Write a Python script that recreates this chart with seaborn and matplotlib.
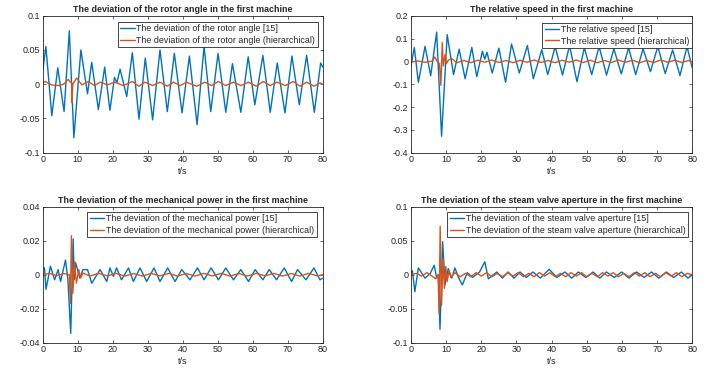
import matplotlib
matplotlib.use("Agg")
import matplotlib.pyplot as plt
import seaborn as sns

# rotor angle deviation, first machine
t_angle = [0, 0.9, 2.6, 4.3, 6.1, 7.6, 8.9, 10.9, 12.8, 14.0, 15.9, 17.7, 19.2, 20.5, 21.2, 22.1,
           24.0, 25.6, 27.5, 29.3, 31.4, 33.5, 35.6, 37.6, 39.8, 41.9, 44.1, 46.1, 48.0, 50.1,
           52.3, 54.2, 56.6, 58.7, 60.6, 62.9, 65.0, 67.0, 69.2, 71.2, 73.3, 75.4, 77.6, 79.4, 80]
angle_ref = [0.02, 0.055, -0.046, 0.024, -0.04, 0.078, -0.078, 0.05, -0.014, 0.032, -0.037, 0.025,
             -0.038, 0.01, 0.002, 0.022, -0.018, 0.046, -0.051, 0.038, -0.052, 0.05, -0.04, 0.045,
             -0.042, 0.041, -0.059, 0.055, -0.04, 0.045, -0.041, 0.03, -0.041, 0.04, -0.03, 0.042,
             -0.041, 0.031, -0.042, 0.041, -0.03, 0.042, -0.041, 0.031, 0.025]
t_angle_h = [0, 0.7, 2.5, 4.5, 6.0, 7.3, 7.9, 8.3, 8.35, 8.6, 9.7, 11.2, 13.0, 14.8, 16.4, 18.5,
             20.5, 23.0, 25.6, 27.5, 29.2, 31.4, 33.5, 35.6, 37.3, 39.3, 41.1, 44.0, 46.3, 48.2,
             50.2, 52.3, 54.5, 56.6, 58.8, 61.0, 63.0, 65.0, 66.9, 69.3, 71.6, 73.5, 75.4, 77.5, 79.2, 80]
angle_h = [0.002, 0.004, -0.001, -0.002, 0.0, 0.007, 0.003, 0.002, -0.027, 0.0, 0.009, -0.001,
           0.004, -0.002, 0.003, -0.001, 0.003, -0.002, 0.004, -0.003, 0.003, -0.002, 0.003, -0.003,
           0.003, -0.002, 0.003, -0.003, 0.003, -0.002, 0.004, -0.002, 0.003, -0.002, 0.003, -0.003,
           0.004, -0.002, 0.003, -0.002, 0.004, -0.003, 0.003, -0.003, 0.002, 0.0]

# relative speed, first machine
t_speed = [0, 0.95, 2.1, 4.0, 5.6, 7.3, 8.7, 10.3, 12.1, 13.7, 15.4, 17.3, 18.7, 20.3, 21.0, 21.6,
           23.1, 25.0, 26.9, 28.6, 30.8, 33.1, 34.8, 37.2, 38.9, 41.0, 43.1, 45.1, 47.2, 49.3,
           51.4, 53.5, 55.6, 57.7, 59.8, 61.9, 63.9, 66.0, 68.1, 70.2, 72.3, 74.4, 76.5, 78.5, 80]
speed_ref = [-0.02, 0.061, -0.092, 0.066, -0.063, 0.128, -0.328, 0.117, -0.058, 0.053, -0.076,
             0.061, -0.067, 0.044, 0.01, 0.04, -0.051, 0.058, -0.092, 0.076, -0.051, 0.069, -0.076,
             0.051, -0.058, 0.065, -0.06, 0.07, -0.089, 0.06, -0.058, 0.065, -0.06, 0.055, -0.055,
             0.06, -0.058, 0.055, -0.045, 0.065, -0.053, 0.05, -0.062, 0.065, -0.03]
t_speed_h = [0, 2.0, 4.0, 6.0, 6.8, 7.5, 8.1, 8.5, 8.9, 9.2, 9.7, 10.1, 10.6, 11.6, 13.0, 15.0,
             17.0, 19.0, 21.0, 23.0, 25.0, 27.0, 29.0, 31.0, 33.0, 35.0, 37.0, 39.0, 41.0, 43.0,
             45.0, 47.0, 49.0, 51.0, 53.0, 55.0, 57.0, 59.0, 61.0, 63.0, 65.0, 67.0, 69.0, 71.0,
             73.0, 75.0, 77.0, 79.0, 80]
speed_h = [-0.003, 0.002, -0.004, 0.001, 0.019, -0.002, -0.01, -0.105, 0.082, -0.02, 0.03, -0.01,
           0.005, 0.012, -0.006, 0.004, -0.006, 0.005, -0.004, 0.006, -0.005, 0.004, -0.006, 0.005,
           -0.004, 0.006, -0.005, 0.004, -0.006, 0.005, -0.004, 0.006, -0.005, 0.005, -0.006, 0.004,
           -0.005, 0.006, -0.004, 0.005, -0.006, 0.004, -0.005, 0.006, -0.004, 0.005, -0.005, 0.004, -0.002]

# mechanical power deviation, first machine
t_power = [0, 0.5, 0.94, 2.2, 3.4, 4.4, 5.1, 6.5, 7.2, 8.0, 8.7, 9.0, 9.4, 10.6, 11.5, 12.8,
           14.0, 16.4, 18.3, 19.2, 20.2, 21.1, 22.5, 24.5, 25.9, 27.8, 29.7, 31.8, 33.5, 35.7,
           37.8, 39.7, 42.1, 44.2, 46.1, 48.1, 50.2, 52.3, 54.5, 56.6, 58.8, 60.7, 62.9, 64.7,
           66.8, 69.0, 71.1, 72.8, 75.2, 77.5, 79.2, 80]
power_ref = [0.0037, 0.004, -0.0086, 0.005, -0.003, 0.003, -0.004, 0.0086, -0.003, -0.0345,
             0.021, -0.003, 0.007, -0.002, 0.003, 0.003, -0.005, 0.003, -0.004, 0.004, -0.001,
             0.004, -0.003, 0.004, -0.004, 0.004, -0.004, 0.004, -0.004, 0.004, -0.004, 0.003,
             -0.003, 0.004, -0.003, 0.004, -0.003, 0.004, -0.003, 0.003, -0.004, 0.003, -0.003,
             0.003, -0.003, 0.004, -0.004, 0.003, -0.003, 0.004, -0.003, -0.002]
t_power_h = [0, 2.0, 4.0, 6.0, 7.6, 7.9, 8.2, 8.6, 9.1, 9.6, 10.3, 10.8, 11.5, 13.5, 16.0, 18.5,
             21.0, 23.5, 26.0, 28.5, 31.0, 33.5, 36.0, 38.5, 41.0, 43.5, 46.0, 48.5, 51.0, 53.5,
             56.0, 58.5, 61.0, 63.5, 66.0, 68.5, 71.0, 73.5, 76.0, 78.5, 80]
power_h = [0.0, 0.0008, -0.0006, 0.0007, 0.0, -0.017, 0.023, -0.011, 0.0076, -0.005, 0.003,
           -0.002, 0.001, -0.0008, 0.0008, -0.0007, 0.0008, -0.0008, 0.0007, -0.0008, 0.0008,
           -0.0007, 0.0008, -0.0008, 0.0007, -0.0008, 0.0008, -0.0007, 0.0008, -0.0008, 0.0007,
           -0.0008, 0.0008, -0.0007, 0.0008, -0.0008, 0.0007, -0.0008, 0.0008, -0.0007, 0.0]

# steam valve aperture deviation, first machine
t_valve = [0, 0.4, 1.1, 2.1, 4.0, 5.5, 6.6, 7.3, 7.8, 8.25, 9.0, 9.7, 10.6, 11.6, 12.5, 13.4,
           14.6, 16.0, 17.5, 19.5, 21.0, 22.0, 24.4, 26.0, 27.6, 29.3, 31.0, 32.8, 34.7, 36.8,
           39.3, 41.5, 43.8, 45.7, 47.6, 49.7, 51.8, 53.7, 55.6, 57.8, 59.9, 62.0, 64.1, 66.3,
           68.4, 70.5, 72.6, 74.7, 76.9, 78.8, 80]
valve_ref = [0.004, 0.006, -0.025, 0.01, -0.005, 0.002, 0.014, -0.005, 0.0, -0.08, 0.0485,
             -0.015, 0.009, -0.005, 0.01, -0.003, -0.015, 0.003, -0.004, 0.004, 0.019, -0.006,
             0.004, -0.005, 0.004, -0.005, 0.004, -0.004, 0.004, -0.005, 0.008, -0.004, 0.004,
             -0.005, 0.004, -0.004, 0.004, -0.005, 0.004, -0.004, 0.004, -0.005, 0.004, -0.004,
             0.004, -0.005, 0.004, -0.004, 0.004, -0.005, 0.0]
t_valve_h = [0, 1.5, 3.0, 4.5, 6.0, 7.0, 7.7, 8.0, 8.3, 8.7, 9.1, 9.5, 9.9, 10.3, 10.8, 11.3,
             12.5, 14.0, 15.5, 17.0, 18.5, 20.0, 21.5, 23.0, 24.5, 26.0, 27.5, 29.0, 30.5, 32.0,
             33.5, 35.0, 36.5, 38.0, 39.5, 41.0, 42.5, 44.0, 45.5, 47.0, 48.5, 50.0, 51.5, 53.0,
             54.5, 56.0, 57.5, 59.0, 60.5, 62.0, 63.5, 65.0, 66.5, 68.0, 69.5, 71.0, 72.5, 74.0,
             75.5, 77.0, 78.5, 80]
valve_h = [0.0, 0.002, -0.002, 0.003, -0.002, -0.006, 0.0, -0.058, 0.071, -0.045, 0.024, -0.02,
           0.012, -0.01, 0.006, -0.004, 0.003, -0.003, 0.002, -0.003, 0.003, -0.002, 0.003, -0.003,
           0.002, -0.003, 0.003, -0.002, 0.003, -0.003, 0.002, -0.003, 0.003, -0.002, 0.003, -0.003,
           0.002, -0.003, 0.003, -0.002, 0.003, -0.003, 0.002, -0.003, 0.003, -0.002, 0.003, -0.003,
           0.002, -0.003, 0.003, -0.002, 0.003, -0.003, 0.002, -0.003, 0.003, -0.002, 0.003,
           -0.003, 0.002, 0.0]

BLUE = '#0072BD'
RED = '#D95319'

sns.set_style("ticks")
plt.rcParams['font.family'] = ['Liberation Sans', 'DejaVu Sans']
plt.rcParams['axes.linewidth'] = 0.6

fig = plt.figure(figsize=(7.18, 3.73), dpi=100)

panels = [
    dict(rect=[0.0595, 0.5906, 0.390, 0.3673], t1=t_angle, v1=angle_ref, t2=t_angle_h, v2=angle_h,
         lab1='The deviation of the rotor angle [15]', lab2='The deviation of the rotor angle (hierarchical)',
         title='The deviation of the rotor angle in the first machine',
         ylim=(-0.1, 0.1), yt=[-0.1, -0.05, 0, 0.05, 0.1], ytl=['-0.1', '-0.05', '0', '0.05', '0.1'],
         anchor=(0.983, 0.956)),
    dict(rect=[0.5724, 0.5906, 0.3918, 0.3673], t1=t_speed, v1=speed_ref, t2=t_speed_h, v2=speed_h,
         lab1='The relative speed [15]', lab2='The relative speed (hierarchical)',
         title='The relative speed in the first machine',
         ylim=(-0.4, 0.2), yt=[-0.4, -0.3, -0.2, -0.1, 0, 0.1, 0.2],
         ytl=['-0.4', '-0.3', '-0.2', '-0.1', '0', '0.1', '0.2'],
         anchor=(0.998, 0.949)),
    dict(rect=[0.0595, 0.0812, 0.390, 0.3646], t1=t_power, v1=power_ref, t2=t_power_h, v2=power_h,
         lab1='The deviation of the mechanical power [15]',
         lab2='The deviation of the mechanical power (hierarchical)',
         title='The deviation of the mechanical power in the first machine',
         ylim=(-0.04, 0.04), yt=[-0.04, -0.02, 0, 0.02, 0.04], ytl=['-0.04', '-0.02', '0', '0.02', '0.04'],
         anchor=(0.979, 0.963)),
    dict(rect=[0.5724, 0.0812, 0.3918, 0.3646], t1=t_valve, v1=valve_ref, t2=t_valve_h, v2=valve_h,
         lab1='The deviation of the steam valve aperture [15]',
         lab2='The deviation of the steam valve aperture (hierarchical)',
         title='The deviation of the steam valve aperture in the first machine',
         ylim=(-0.1, 0.1), yt=[-0.1, -0.05, 0, 0.05, 0.1], ytl=['-0.1', '-0.05', '0', '0.05', '0.1'],
         anchor=(0.986, 0.963)),
]

for p in panels:
    ax = fig.add_axes(p['rect'])
    sns.lineplot(x=p['t1'], y=p['v1'], ax=ax, color=BLUE, lw=1.0, label=p['lab1'],
                 sort=False, estimator=None)
    sns.lineplot(x=p['t2'], y=p['v2'], ax=ax, color=RED, lw=1.0, label=p['lab2'],
                 sort=False, estimator=None)
    ax.set_xlim(0, 80)
    ax.set_ylim(*p['ylim'])
    ax.set_xticks(range(0, 81, 10))
    ax.set_yticks(p['yt'])
    ax.set_yticklabels(p['ytl'])
    ax.tick_params(direction='in', top=True, right=True, length=2.5, width=0.5,
                   labelsize=6.5, pad=2, colors='#262626')
    for s in ax.spines.values():
        s.set_visible(True)
        s.set_color('#262626')
        s.set_linewidth(0.6)
    ax.set_title(p['title'], fontsize=6.4, fontweight='bold', pad=3)
    ax.set_xlabel('t/s', fontsize=6.5, labelpad=1.5, color='#262626')
    ax.set_ylabel('')
    leg = ax.legend(loc='upper right', bbox_to_anchor=p['anchor'], borderaxespad=0,
                    fontsize=6.4, fancybox=False, framealpha=1, edgecolor='#262626',
                    handlelength=1.6, handletextpad=0.2, borderpad=0.3, labelspacing=0.25)
    leg.get_frame().set_linewidth(0.6)

fig.savefig('out.png', dpi=100)
